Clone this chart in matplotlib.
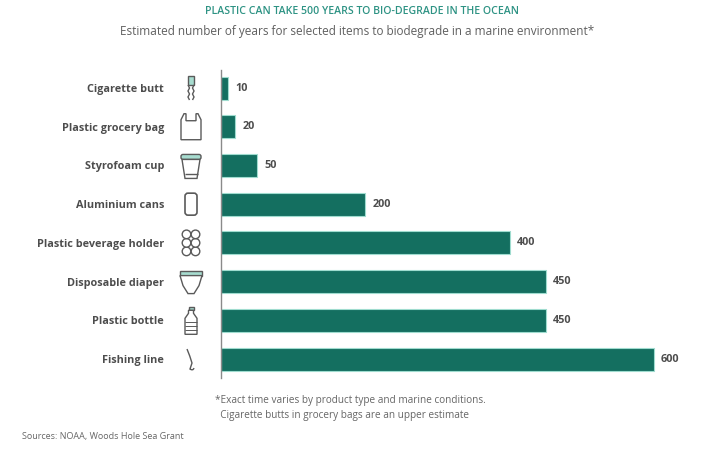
import matplotlib.pyplot as plt
import matplotlib.patches as mpatches
import matplotlib.transforms as mtransforms
from matplotlib.path import Path

# data
items = ['Cigarette butt', 'Plastic grocery bag', 'Styrofoam cup', 'Aluminium cans',
         'Plastic beverage holder', 'Disposable diaper', 'Plastic bottle', 'Fishing line']
years = [10, 20, 50, 200, 400, 450, 450, 600]
icons = ['butt', 'bag', 'cup', 'can', 'holder', 'diaper', 'bottle', 'line']

BAR = '#146f60'
EDGE = '#9fdccf'
TEAL = '#2e9384'
GREY = '#4d4d4d'
ICON = '#5a5a5a'
MINT = '#a7dccf'

plt.rcParams['font.family'] = ['Open Sans', 'DejaVu Sans']

fig = plt.figure(figsize=(7.2, 4.5), dpi=100)
ax = fig.add_axes([221 / 720, 1 - 378 / 450, 479 / 720, 308 / 450])

ypos = list(range(len(items)))
ax.barh(ypos, years, height=0.594, color=BAR, edgecolor=EDGE, linewidth=0.8)
ax.set_xlim(0, 479 / 0.7217)
ax.set_ylim(7.49, -0.465)

for y, v in zip(ypos, years):
    ax.annotate(str(v), (v, y), xytext=(5, 0), textcoords='offset points',
                va='center', ha='left', fontsize=7.8, fontweight='bold', color=GREY)

ax.set_yticks(ypos)
ax.set_yticklabels(items, fontsize=7.8, fontweight='bold', color=GREY)
ax.tick_params(axis='y', length=0, pad=41)
ax.set_xticks([])
for s in ['top', 'right', 'bottom']:
    ax.spines[s].set_visible(False)
ax.spines['left'].set_color('#8a8a8a')
ax.spines['left'].set_linewidth(1.0)


# --- small line icons, drawn in pixel units around each row ---
def icon_trans(y):
    return mtransforms.Affine2D().scale(fig.dpi / 100) + \
        mtransforms.ScaledTranslation(0, y, ax.transData)


def add(p, y):
    p.set_transform(icon_trans(y))
    p.set_clip_on(False)
    ax.add_patch(p)


def draw_icon(kind, y):
    cx = -30
    lw = 1.0
    if kind == 'butt':
        add(mpatches.Rectangle((cx - 3, 3), 6, 9, fc=MINT, ec=ICON, lw=lw), y)
        wave = [(cx - 3, 3), (cx - 1.5, 0), (cx - 3, -3), (cx - 1.5, -6), (cx - 3, -9), (cx - 1.5, -12)]
        add(mpatches.PathPatch(Path(wave), fc='none', ec=ICON, lw=lw), y)
        wave2 = [(cx + 3, 3), (cx + 1.5, 0), (cx + 3, -3), (cx + 1.5, -6), (cx + 3, -9), (cx + 1.5, -12)]
        add(mpatches.PathPatch(Path(wave2), fc='none', ec=ICON, lw=lw), y)
    elif kind == 'bag':
        pts = [(cx - 10, -13), (cx + 10, -13), (cx + 10, 7), (cx + 7, 13), (cx + 5, 13),
               (cx + 5, 6), (cx - 5, 6), (cx - 5, 13), (cx - 7, 13), (cx - 10, 7), (cx - 10, -13)]
        add(mpatches.Polygon(pts, closed=True, fc='white', ec=ICON, lw=lw), y)
    elif kind == 'cup':
        add(mpatches.FancyBboxPatch((cx - 10, 6), 20, 5, boxstyle='round,pad=0,rounding_size=2',
                                    fc=MINT, ec=ICON, lw=lw), y)
        pts = [(cx - 9, 6), (cx + 9, 6), (cx + 6, -13), (cx - 6, -13)]
        add(mpatches.Polygon(pts, closed=True, fc='white', ec=ICON, lw=lw), y)
        add(mpatches.PathPatch(Path([(cx - 6.5, -9), (cx + 6.5, -9)]), ec=ICON, lw=lw), y)
    elif kind == 'can':
        add(mpatches.FancyBboxPatch((cx - 6, -11), 12, 22, boxstyle='round,pad=0,rounding_size=3',
                                    fc='white', ec=ICON, lw=lw * 1.2), y)
    elif kind == 'holder':
        for dx in (-4.5, 4.5):
            for dy in (-8.5, 0, 8.5):
                add(mpatches.Circle((cx + dx, dy), 4.3, fc='white', ec=ICON, lw=lw), y)
    elif kind == 'diaper':
        add(mpatches.Rectangle((cx - 11, 6), 22, 5, fc=MINT, ec=ICON, lw=lw), y)
        pts = [(cx - 11, 6), (cx + 11, 6), (cx + 8, -4), (cx + 3, -12), (cx - 3, -12),
               (cx - 8, -4)]
        add(mpatches.Polygon(pts, closed=True, fc='white', ec=ICON, lw=lw), y)
    elif kind == 'bottle':
        add(mpatches.Rectangle((cx - 2.5, 10), 5, 3, fc=MINT, ec=ICON, lw=lw), y)
        pts = [(cx - 2.5, 10), (cx + 2.5, 10), (cx + 2.5, 7), (cx + 6, 2), (cx + 6, -14),
               (cx - 6, -14), (cx - 6, 2), (cx - 2.5, 7)]
        add(mpatches.Polygon(pts, closed=True, fc='white', ec=ICON, lw=lw), y)
        for dy in (-2, -6, -10):
            add(mpatches.PathPatch(Path([(cx - 6, dy), (cx + 6, dy)]), ec=ICON, lw=0.7), y)
    elif kind == 'line':
        verts = [(cx - 4, 10), (cx - 1, 3), (cx + 1, -4), (cx - 1, -10), (cx + 2, -12), (cx + 3, -9)]
        codes = [Path.MOVETO, Path.CURVE3, Path.CURVE3, Path.LINETO, Path.CURVE3, Path.CURVE3]
        add(mpatches.PathPatch(Path(verts, codes), fc='none', ec=ICON, lw=lw), y)


for y, k in zip(ypos, icons):
    draw_icon(k, y)

# titles and notes
fig.text(0.503, 1 - 11 / 450, 'PLASTIC CAN TAKE 500 YEARS TO BIO-DEGRADE IN THE OCEAN',
         ha='center', va='center', fontsize=7.6, color=TEAL, fontweight='semibold')
fig.text(0.496, 1 - 31 / 450,
         'Estimated number of years for selected items to biodegrade in a marine environment*',
         ha='center', va='center', fontsize=8.5, color='#5f5f5f')
fig.text(215 / 720, 1 - 408 / 450,
         '*Exact time varies by product type and marine conditions.\n'
         '  Cigarette butts in grocery bags are an upper estimate',
         ha='left', va='center', fontsize=7.2, color='#666666', linespacing=1.4)
fig.text(22 / 720, 1 - 437 / 450, 'Sources: NOAA, Woods Hole Sea Grant',
         ha='left', va='center', fontsize=6.5, color='#666666')

fig.savefig('out.png', dpi=100)
